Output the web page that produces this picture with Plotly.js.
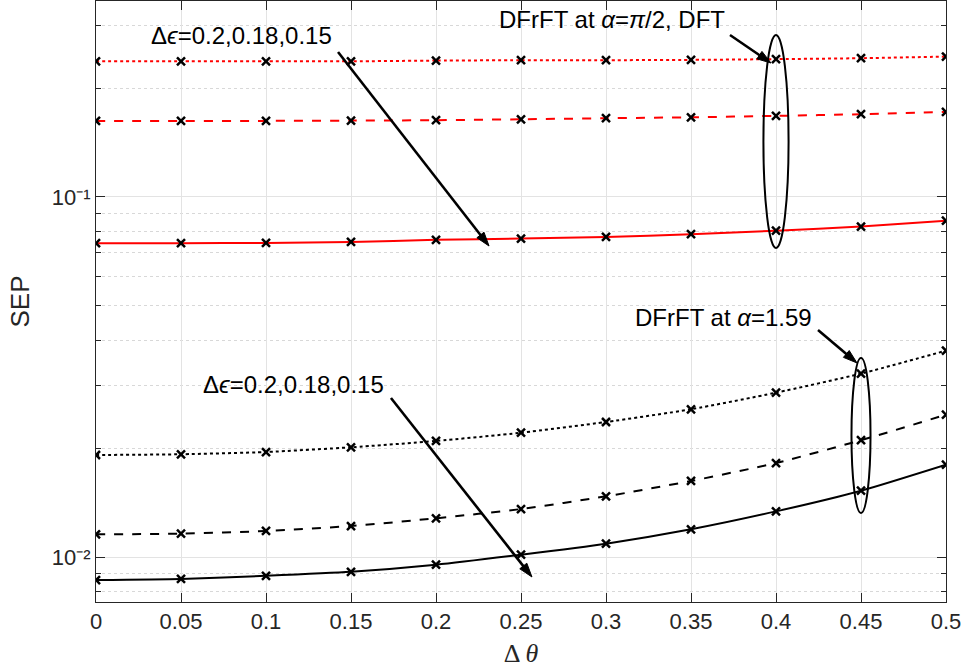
<!DOCTYPE html>
<html>
<head>
<meta charset="utf-8">
<script src="https://cdn.plot.ly/plotly-3.0.1.min.js"></script>
<style>html,body{margin:0;padding:0;background:#fff;}#chart{width:966px;height:668px;}</style>
</head>
<body>
<div id="chart"></div>
<script>
// Δθ values
const dTheta = [0, 0.05, 0.1, 0.15, 0.2, 0.25, 0.3, 0.35, 0.4, 0.45, 0.5];

// DFrFT at α=π/2 (DFT), Δϵ = 0.2, 0.18, 0.15 (red)
const dftEps020 = [0.2380, 0.2380, 0.2380, 0.2380, 0.2391, 0.2397, 0.2397, 0.2402, 0.2413, 0.2428, 0.2453];
const dftEps018 = [0.1626, 0.1626, 0.1626, 0.1629, 0.1633, 0.1643, 0.1654, 0.1664, 0.1679, 0.1697, 0.1722];
const dftEps015 = [0.0744, 0.0744, 0.0745, 0.0750, 0.0760, 0.0766, 0.0774, 0.0788, 0.0806, 0.0827, 0.0859];

// DFrFT at α=1.59, Δϵ = 0.2, 0.18, 0.15 (black)
const frEps020 = [0.01920, 0.01929, 0.01957, 0.02017, 0.02100, 0.02214, 0.02371, 0.02572, 0.02860, 0.03231, 0.03742];
const frEps018 = [0.01156, 0.01161, 0.01181, 0.01219, 0.01281, 0.01359, 0.01474, 0.01626, 0.01824, 0.02110, 0.02485];
const frEps015 = [0.00863, 0.00869, 0.00887, 0.00910, 0.00952, 0.01015, 0.01089, 0.01194, 0.01339, 0.01528, 0.01805];

const xTicks = [0, 0.05, 0.1, 0.15, 0.2, 0.25, 0.3, 0.35, 0.4, 0.45, 0.5];
const xTickText = ['0', '0.05', '0.1', '0.15', '0.2', '0.25', '0.3', '0.35', '0.4', '0.45', '0.5'];
const yMajor = [0.01, 0.1];
const yMajorText = ['10\u207B\u00B2', '10\u207B\u00B9'];
const yMinor = [0.008, 0.009, 0.02, 0.03, 0.04, 0.05, 0.06, 0.07, 0.08, 0.09, 0.2, 0.3];

const axisColor = '#262626';
const marker = {symbol: 'x-thin', size: 8, color: '#000', line: {color: '#000', width: 2.5}};

function series(y, color, dash, name) {
  return {
    x: dTheta, y: y, type: 'scatter', mode: 'lines+markers', name: name,
    line: {color: color, width: 2, dash: dash, shape: 'spline', smoothing: 0.6},
    marker: marker, showlegend: false
  };
}

const data = [
  series(dftEps020, '#ff0000', 'dot', 'DFT Δϵ=0.2'),
  series(dftEps018, '#ff0000', 'dash', 'DFT Δϵ=0.18'),
  series(dftEps015, '#ff0000', 'solid', 'DFT Δϵ=0.15'),
  series(frEps020, '#000000', 'dot', 'α=1.59 Δϵ=0.2'),
  series(frEps018, '#000000', 'dash', 'α=1.59 Δϵ=0.18'),
  series(frEps015, '#000000', 'solid', 'α=1.59 Δϵ=0.15')
];

const W = 966, H = 668;
const M = {l: 96, r: 20, t: 1, b: 66};
const PW = W - M.l - M.r, PH = H - M.t - M.b;

const txtFont = {family: 'Liberation Sans, Arial, sans-serif', size: 24, color: '#000'};
function label(text, x, y) {
  return {text: text, x: x, y: y, xref: 'paper', yref: 'paper', xanchor: 'center', yanchor: 'middle', showarrow: false, font: txtFont};
}

// Arrow: head position in paper coords, tail as pixel offset from head (dx right, dy down)
function arrowShapes(hx, hy, dx, dy) {
  const Hx = hx * PW, Hy = -hy * PH;           // pixel space (y down)
  const Tx = Hx + dx, Ty = Hy + dy;
  const len = Math.hypot(Hx - Tx, Hy - Ty);
  const ux = (Hx - Tx) / len, uy = (Hy - Ty) / len;
  const L = 14, w = 4.5;
  const Bx = Hx - L * ux, By = Hy - L * uy;
  const nx = -uy, ny = ux;
  const P = (x, y) => [(x / PW), (-y / PH)];
  const t = P(Tx, Ty), b = P(Bx + 2 * ux, By + 2 * uy), h = P(Hx, Hy);
  const c1 = P(Bx + w * nx, By + w * ny), c2 = P(Bx - w * nx, By - w * ny);
  return [
    {type: 'line', xref: 'paper', yref: 'paper', x0: t[0], y0: t[1], x1: b[0], y1: b[1], line: {color: '#000', width: 2.6}},
    {type: 'path', xref: 'paper', yref: 'paper', path: `M${h[0]},${h[1]} L${c1[0]},${c1[1]} L${c2[0]},${c2[1]} Z`, fillcolor: '#000', line: {color: '#000', width: 1}}
  ];
}

const shapes = [
  {type: 'circle', xref: 'x', yref: 'paper', x0: 0.3926, x1: 0.4074, y0: 0.589, y1: 0.9434, line: {color: '#000', width: 2}},
  {type: 'circle', xref: 'x', yref: 'paper', x0: 0.4444, x1: 0.4556, y0: 0.1481, y1: 0.406, line: {color: '#000', width: 2}}
].concat(
  arrowShapes(0.4624, 0.5923, -151, -194),
  arrowShapes(0.5129, 0.0416, -141, -179),
  arrowShapes(0.7941, 0.8968, -41, -28),
  arrowShapes(0.8953, 0.3977, -39, -33)
);

const layout = {
  width: W, height: H,
  margin: M,
  paper_bgcolor: '#fff', plot_bgcolor: '#fff',
  font: {family: 'Liberation Sans, Arial, sans-serif', color: axisColor},
  xaxis: {
    range: [0, 0.5], tickvals: xTicks, ticktext: xTickText,
    tickfont: {size: 22, color: axisColor},
    ticks: 'inside', ticklen: 9, tickcolor: axisColor, tickwidth: 1,
    showline: true, linecolor: axisColor, linewidth: 1, mirror: 'ticks',
    showgrid: true, gridcolor: '#e3e3e3', gridwidth: 1, zeroline: false,
    title: {text: 'Δ <i>θ</i>', font: {family: 'Liberation Serif, Times New Roman, serif', size: 26, color: axisColor}, standoff: 10}
  },
  yaxis: {
    type: 'log', range: [Math.log10(0.0075), Math.log10(0.35)],
    tickvals: yMajor, ticktext: yMajorText,
    tickfont: {size: 22, color: axisColor},
    ticks: 'inside', ticklen: 9, tickcolor: axisColor, tickwidth: 1,
    showline: true, linecolor: axisColor, linewidth: 1, mirror: 'ticks',
    showgrid: true, gridcolor: '#e3e3e3', gridwidth: 1, zeroline: false,
    minor: {tickvals: yMinor, ticks: 'inside', ticklen: 5, tickcolor: axisColor, showgrid: true, gridcolor: '#d8d8d8', griddash: 'dot', gridwidth: 1},
    title: {text: 'SEP', font: {size: 26, color: axisColor}, standoff: 14}
  },
  shapes: shapes,
  annotations: [
    label('Δ<i>ϵ</i>=0.2,0.18,0.15', 0.1714, 0.9434),
    label('Δ<i>ϵ</i>=0.2,0.18,0.15', 0.2318, 0.3611),
    label('DFrFT at <i>α</i>=<i>π</i>/2, DFT', 0.6076, 0.9684),
    label('DFrFT at <i>α</i>=1.59', 0.7388, 0.4742)
  ]
};

Plotly.newPlot('chart', data, layout, {displayModeBar: false, staticPlot: true});
</script>
</body>
</html>
